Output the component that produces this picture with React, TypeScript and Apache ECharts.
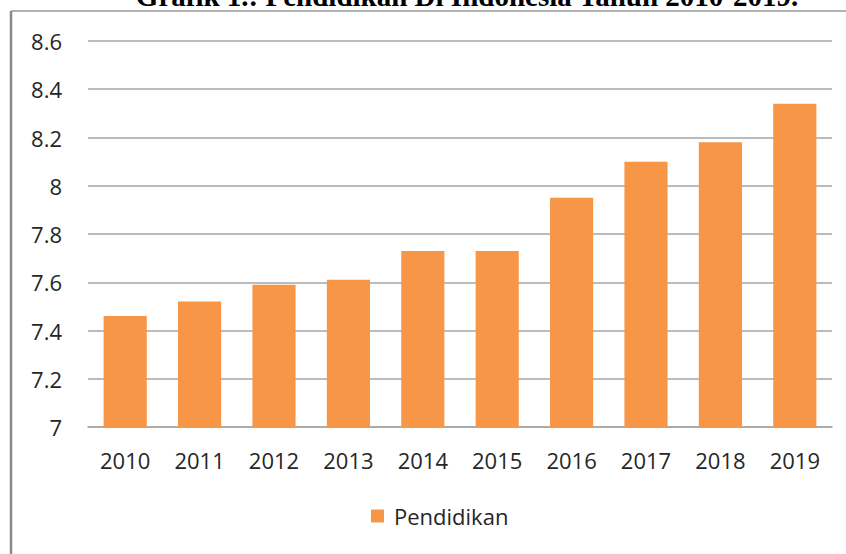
import React, { useEffect, useRef } from "react";
import * as echarts from "echarts";

const years = ["2010", "2011", "2012", "2013", "2014", "2015", "2016", "2017", "2018", "2019"];
const pendidikan = [7.46, 7.52, 7.59, 7.61, 7.73, 7.73, 7.95, 8.1, 8.18, 8.34];
const seriesName = "Pendidikan";
const titleText = "Grafik 1.: Pendidikan Di Indonesia Tahun 2010-2019.";

export default function App() {
  const ref = useRef<HTMLDivElement>(null);
  useEffect(() => {
    const chart = echarts.init(ref.current!, null, { renderer: "svg" });
    const font = "'Open Sans', 'Noto Sans', sans-serif";
    chart.setOption({
      animation: false,
      backgroundColor: "#ffffff",
      grid: { left: 88, right: 14, top: 41, bottom: 127 },
      xAxis: {
        type: "category",
        data: years,
        axisLine: { show: true, lineStyle: { color: "#a6a6a6", width: 1.5 } },
        axisTick: { show: false },
        axisLabel: { color: "#262626", fontSize: 22, fontFamily: font, margin: 22 },
      },
      yAxis: {
        type: "value",
        min: 7,
        max: 8.6,
        interval: 0.2,
        axisLine: { show: false },
        axisTick: { show: false },
        splitLine: { lineStyle: { color: "#a6a6a6", width: 1.5 } },
        axisLabel: {
          color: "#262626",
          fontSize: 22,
          fontFamily: font,
          margin: 26,
          formatter: (v: number) => String(parseFloat(v.toFixed(1))),
        },
      },
      legend: {
        bottom: 22,
        left: 366,
        itemWidth: 13,
        itemHeight: 13,
        icon: "rect",
        textStyle: { color: "#262626", fontSize: 22, fontFamily: font, padding: [0, 0, 0, 5] },
        data: [seriesName],
      },
      series: [
        {
          name: seriesName,
          type: "bar",
          data: pendidikan,
          barWidth: "58%",
          itemStyle: { color: "#F79646" },
        },
      ],
      graphic: [
        {
          type: "line",
          shape: { x1: 11, y1: 11, x2: 846, y2: 11 },
          style: { stroke: "#9a9a9a", lineWidth: 1.5 },
        },
        {
          type: "line",
          shape: { x1: 11, y1: 11, x2: 11, y2: 554 },
          style: { stroke: "#8a8a8a", lineWidth: 2.5 },
        },
        {
          type: "text",
          x: 467,
          y: 10,
          style: {
            text: titleText,
            fill: "#000000",
            font: "bold 29px 'Liberation Serif', 'DejaVu Serif', serif",
            textAlign: "center",
            textVerticalAlign: "bottom",
          },
        },
      ],
    });
    return () => chart.dispose();
  }, []);
  return (
    <div
      ref={ref}
      style={{ position: "fixed", left: 0, top: 0, width: 846, height: 554 }}
    />
  );
}
